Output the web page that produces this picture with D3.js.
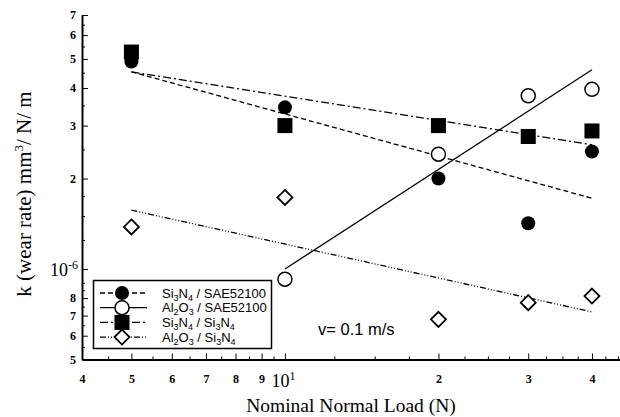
<!DOCTYPE html>
<html>
<head>
<meta charset="utf-8">
<script src="https://cdn.jsdelivr.net/npm/d3@7"></script>
<style>
  body { margin: 0; background: #fff; }
  svg { display: block; }
</style>
</head>
<body>
<svg width="620" height="417"></svg>
<script>
// loads (N) and wear rates k (mm^3/N/m)
const loads = [5, 10, 20, 30, 40];
const si3n4Sae = [4.9e-6, 3.45e-6, 2.0e-6, 1.42e-6, 2.46e-6];
const al2o3SaeLoads = [10, 20, 30, 40];
const al2o3Sae = [0.925e-6, 2.41e-6, 3.77e-6, 3.96e-6];
const si3n4Si3n4 = [5.27e-6, 3.0e-6, 3.0e-6, 2.76e-6, 2.88e-6];
const al2o3Si3n4 = [1.38e-6, 1.73e-6, 0.68e-6, 0.773e-6, 0.813e-6];

// fitted power-law lines, end points
const fitSi3n4Sae = [[5, 4.53e-6], [40, 1.72e-6]];
const fitAl2o3Sae = [[10, 1.0e-6], [40, 4.6e-6]];
const fitSi3n4Si3n4 = [[5, 4.53e-6], [40, 2.59e-6]];
const fitAl2o3Si3n4 = [[5, 1.57e-6], [40, 0.72e-6]];

// ticks
const xMajor = [4, 5, 6, 7, 8, 9, 10, 20, 30, 40];
const xMinor = [4.5, 5.5, 6.5, 7.5, 8.5, 9.5, 12.5, 15, 17.5, 22.5, 25, 27.5, 32.5, 35, 37.5, 42.5, 45];
const yMajor = [5e-7, 6e-7, 7e-7, 8e-7, 1e-6, 2e-6, 3e-6, 4e-6, 5e-6, 6e-6, 7e-6];
const yMinor = [5.5e-7, 6.5e-7, 7.5e-7, 8.5e-7, 9e-7, 1.25e-6, 1.5e-6, 1.75e-6, 2.5e-6, 3.5e-6, 4.5e-6, 5.5e-6, 6.5e-6];
const yLabels = ["5", "6", "7", "8", "10|-6", "2", "3", "4", "5", "6", "7"];

const svg = d3.select("svg");

// log scales, pixel ranges picked so ticks land where the picture has them
const x = d3.scaleLog().domain([4, 45.4]).range([82, 620]);
const y = d3.scaleLog().domain([5e-7, 7e-6]).range([359.5, 15]);

// minor ticks first (short, pointing inward)
svg.append("g")
  .attr("transform", "translate(0," + y.range()[0] + ")")
  .call(d3.axisBottom(x).tickValues(xMinor).tickSize(-3).tickFormat(""))
  .call(g => g.select(".domain").remove());
svg.append("g")
  .attr("transform", "translate(" + x.range()[0] + ",0)")
  .call(d3.axisLeft(y).tickValues(yMinor).tickSize(-3).tickFormat(""))
  .call(g => g.select(".domain").remove());

// major ticks + labels
const xAxis = svg.append("g")
  .attr("transform", "translate(0," + y.range()[0] + ")")
  .call(d3.axisBottom(x).tickValues(xMajor).tickSize(-6).tickSizeOuter(0)
    .tickPadding(15).tickFormat(d => d === 10 ? "" : String(d >= 10 ? d / 10 : d)));

const yAxis = svg.append("g")
  .attr("transform", "translate(" + x.range()[0] + ",0)")
  .call(d3.axisLeft(y).tickValues(yMajor).tickSize(-6).tickSizeOuter(0)
    .tickPadding(6).tickFormat((d, i) => yLabels[i].includes("|") ? "" : yLabels[i]));

[xAxis, yAxis].forEach(a => {
  a.select(".domain").attr("stroke-width", 2);
  a.selectAll(".tick line").attr("stroke-width", 1);
  a.selectAll(".tick text")
    .attr("font-family", "'Liberation Serif', 'Times New Roman', serif")
    .attr("font-weight", "bold")
    .attr("font-size", 12);
});

// power-of-ten labels with superscripts
xAxis.selectAll(".tick").filter(d => d === 10).append("text")
  .attr("y", 27).attr("x", -2)
  .attr("text-anchor", "middle")
  .attr("font-family", "'Liberation Serif', 'Times New Roman', serif")
  .attr("font-size", 18).attr("fill", "#000")
  .call(t => {
    t.append("tspan").text("10");
    t.append("tspan").attr("font-size", 12).attr("dy", -7).text("1");
  });

yAxis.selectAll(".tick").filter(d => d === 1e-6).append("text")
  .attr("x", -4).attr("y", 6)
  .attr("text-anchor", "end")
  .attr("font-family", "'Liberation Serif', 'Times New Roman', serif")
  .attr("font-size", 18).attr("fill", "#000")
  .call(t => {
    t.append("tspan").text("10");
    t.append("tspan").attr("font-size", 12).attr("dy", -7).text("-6");
  });

// axis titles
svg.append("text")
  .attr("x", 351).attr("y", 412)
  .attr("text-anchor", "middle")
  .attr("font-family", "'Liberation Serif', 'Times New Roman', serif")
  .attr("font-size", 19.5)
  .text("Nominal Normal Load (N)");

svg.append("text")
  .attr("transform", "translate(31,194) rotate(-90)")
  .attr("text-anchor", "middle")
  .attr("font-family", "'Liberation Serif', 'Times New Roman', serif")
  .attr("font-size", 21)
  .call(t => {
    t.append("tspan").text("k (wear rate) mm");
    t.append("tspan").attr("font-size", 13).attr("dy", -8).text("3");
    t.append("tspan").attr("dy", 8).text("/ N/ m");
  });

// series
const series = [
  { label: [["Si"], ["3", 1], ["N"], ["4", 1], [" / SAE52100"]], xs: loads, ys: si3n4Sae, fit: fitSi3n4Sae, kind: "dot", dash: "5,3" },
  { label: [["Al"], ["2", 1], ["O"], ["3", 1], [" / SAE52100"]], xs: al2o3SaeLoads, ys: al2o3Sae, fit: fitAl2o3Sae, kind: "ring", dash: null },
  { label: [["Si"], ["3", 1], ["N"], ["4", 1], [" / Si"], ["3", 1], ["N"], ["4", 1]], xs: loads, ys: si3n4Si3n4, fit: fitSi3n4Si3n4, kind: "square", dash: "8,3,2,3" },
  { label: [["Al"], ["2", 1], ["O"], ["3", 1], [" / Si"], ["3", 1], ["N"], ["4", 1]], xs: loads, ys: al2o3Si3n4, fit: fitAl2o3Si3n4, kind: "diamond", dash: "6,2,1,2,1,2,1,2" }
];

function marker(sel, kind) {
  if (kind === "dot") sel.append("circle").attr("r", 7).attr("fill", "#000");
  if (kind === "ring") sel.append("circle").attr("r", 7).attr("fill", "#fff").attr("stroke", "#000").attr("stroke-width", 1.5);
  if (kind === "square") sel.append("rect").attr("x", -7.5).attr("y", -7.5).attr("width", 15).attr("height", 15).attr("fill", "#000");
  if (kind === "diamond") sel.append("path").attr("d", "M0,-7.5L7.5,0L0,7.5L-7.5,0Z").attr("fill", "#fff").attr("stroke", "#000").attr("stroke-width", 1.8);
}

const line = d3.line().x(d => x(d[0])).y(d => y(d[1]));

svg.append("g").selectAll("path")
  .data(series)
  .enter().append("path")
    .attr("d", s => line(s.fit))
    .attr("fill", "none")
    .attr("stroke", "#000")
    .attr("stroke-width", 1.3)
    .attr("stroke-dasharray", s => s.dash);

series.forEach(s => {
  svg.append("g").selectAll("g")
    .data(s.xs.map((v, i) => [v, s.ys[i]]))
    .enter().append("g")
      .attr("transform", d => "translate(" + x(d[0]) + "," + y(d[1]) + ")")
      .each(function() { marker(d3.select(this), s.kind); });
});

// legend
const legend = svg.append("g");
legend.append("rect")
  .attr("x", 93.5).attr("y", 280.5).attr("width", 178).attr("height", 68)
  .attr("fill", "#fff").attr("stroke", "#000").attr("stroke-width", 1.5);

series.forEach((s, i) => {
  const row = legend.append("g").attr("transform", "translate(0," + (293 + i * 14.7) + ")");
  row.append("line")
    .attr("x1", 100).attr("x2", 147).attr("y1", 0).attr("y2", 0)
    .attr("stroke", "#000").attr("stroke-width", 1.3)
    .attr("stroke-dasharray", s.dash);
  marker(row.append("g").attr("transform", "translate(122,0)"), s.kind);
  const t = row.append("text")
    .attr("x", 162).attr("y", 4.5)
    .attr("font-family", "'Liberation Sans', Arial, sans-serif")
    .attr("font-size", 13);
  let shift = 0;
  s.label.forEach(p => {
    const want = p[1] ? 3 : 0;
    t.append("tspan")
      .attr("font-size", p[1] ? 9 : 13)
      .attr("dy", want - shift)
      .text(p[0]);
    shift = want;
  });
});

svg.append("text")
  .attr("x", 318).attr("y", 335)
  .attr("font-family", "'Liberation Sans', Arial, sans-serif")
  .attr("font-size", 16.5)
  .text("v= 0.1 m/s");
</script>
</body>
</html>
